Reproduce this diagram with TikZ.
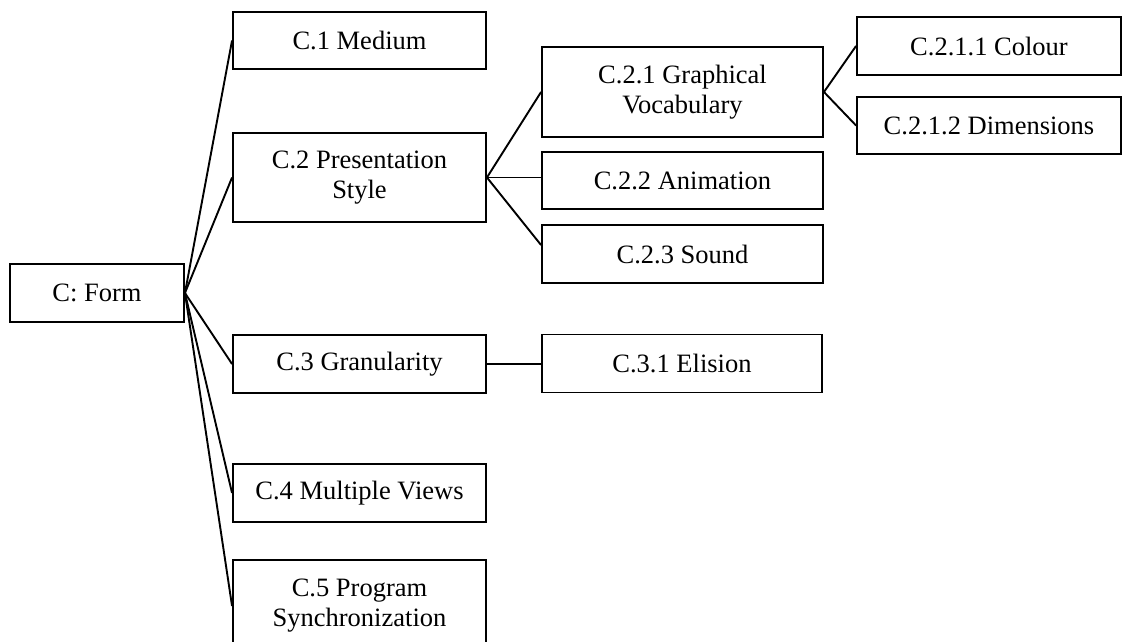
\documentclass[tikz,border=0pt]{standalone}
\usepackage{fontspec}
\setmainfont{Liberation Serif}
\usetikzlibrary{calc}
\begin{document}
\begin{tikzpicture}[x=1pt,y=-1pt,
  box/.style={draw,line width=1.9pt,rectangle,inner sep=0pt,align=center,
    font=\fontsize{26.5}{30}\selectfont},
  link/.style={line width=1.9pt}]
\useasboundingbox (0,0) rectangle (1122,642);
\clip (0,0) rectangle (1122,642);
% root
\node[box,minimum width=174pt,minimum height=58pt] (root) at (97,293) {C: Form};
% first level
\node[box,minimum width=253pt,minimum height=57pt] (c1) at (359.5,40.5) {C.1 Medium};
\node[box,minimum width=253pt,minimum height=89pt] (c2) at (359.5,177.5) {C.2 Presentation\\Style};
\node[box,minimum width=253pt,minimum height=58pt] (c3) at (359.5,364) {C.3 Granularity};
\node[box,minimum width=253pt,minimum height=58pt] (c4) at (359.5,493) {C.4 Multiple Views};
\node[box,minimum width=253pt,minimum height=92pt] (c5) at (359.5,606) {C.5 Program\\Synchronization};
% second level
\node[box,minimum width=281pt,minimum height=90pt] (c21) at (682.5,92) {C.2.1 Graphical\\Vocabulary};
\node[box,minimum width=281pt,minimum height=57pt] (c22) at (682.5,180.5) {C.2.2 Animation};
\node[box,minimum width=281pt,minimum height=58pt] (c23) at (682.5,254) {C.2.3 Sound};
\node[box,minimum width=280pt,minimum height=58pt] (c31) at (682,363.5) {C.3.1 Elision};
% third level
\node[box,minimum width=264pt,minimum height=58pt] (c211) at (989,46) {C.2.1.1 Colour};
\node[box,minimum width=264pt,minimum height=57pt] (c212) at (989,125.5) {C.2.1.2 Dimensions};
% connectors
\foreach \t in {c1,c2,c3,c4,c5} \draw[link] (root.east) -- (\t.west);
\draw[link] (c2.east) -- (c21.west);
\draw[link] (c2.east) -- (c2.east -| c22.west);
\draw[link] (c2.east) -- ($(c23.north west)!0.35!(c23.south west)$);
\draw[link] (c3.east) -- (c3.east -| c31.west);
\draw[link] (c21.east) -- (c211.west);
\draw[link] (c21.east) -- (c212.west);
\end{tikzpicture}
\end{document}
